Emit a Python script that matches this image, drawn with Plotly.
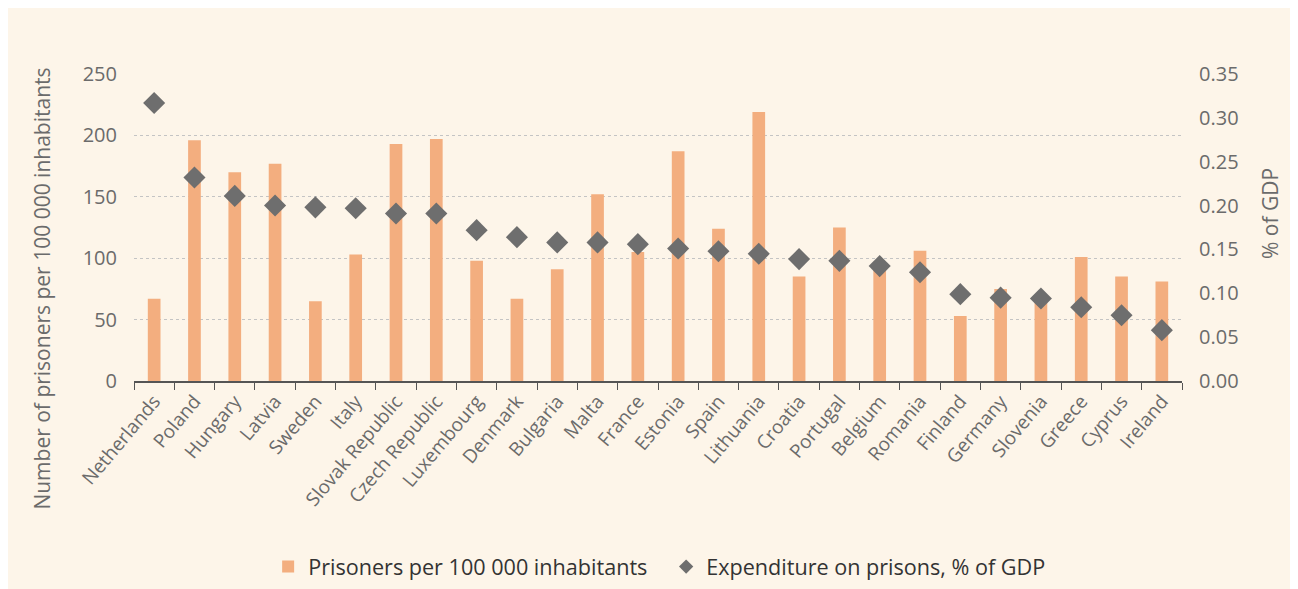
import plotly.graph_objects as go

countries = ["Netherlands", "Poland", "Hungary", "Latvia", "Sweden", "Italy",
             "Slovak Republic", "Czech Republic", "Luxembourg", "Denmark", "Bulgaria",
             "Malta", "France", "Estonia", "Spain", "Lithuania", "Croatia", "Portugal",
             "Belgium", "Romania", "Finland", "Germany", "Slovenia", "Greece", "Cyprus",
             "Ireland"]
prisoners = [67, 196, 170, 177, 65, 103, 193, 197, 98, 67, 91, 152, 105, 187, 124,
             219, 85, 125, 95, 106, 53, 75, 70, 101, 85, 81]
expenditure = [0.317, 0.232, 0.211, 0.200, 0.198, 0.197, 0.191, 0.191, 0.172, 0.164,
               0.158, 0.158, 0.156, 0.151, 0.148, 0.145, 0.139, 0.137, 0.131, 0.124,
               0.099, 0.095, 0.094, 0.084, 0.075, 0.058]
left_ticks = [0, 50, 100, 150, 200, 250]
right_ticks = [0.00, 0.05, 0.10, 0.15, 0.20, 0.25, 0.30, 0.35]

BG = "#fdf5e9"
FONT = "Open Sans"
GREY = "#6b6b6b"
BAR = "#f3ae7f"
DIA = "#6e6e6e"

fig = go.Figure()
fig.add_trace(go.Bar(x=countries, y=prisoners, name="Prisoners per 100 000 inhabitants",
                     marker=dict(color=BAR, line=dict(width=0)), yaxis="y",
                     showlegend=True))
fig.add_trace(go.Scatter(x=countries, y=expenditure, name="Expenditure on prisons, % of GDP",
                         mode="markers", yaxis="y2", showlegend=False,
                         marker=dict(symbol="diamond", size=17, color=DIA)))
# legend-only entry with a small diamond symbol, as in the reference
fig.add_trace(go.Scatter(x=[None], y=[None], name="Expenditure on prisons, % of GDP",
                         mode="markers", yaxis="y2", showlegend=True,
                         marker=dict(symbol="diamond", size=11, color=DIA)))

fig.update_layout(
    width=1298, height=589,
    paper_bgcolor=BG, plot_bgcolor=BG,
    margin=dict(l=126, r=124, t=66, b=216, autoexpand=False),
    font=dict(family=FONT, color=GREY, size=19),
    bargap=0.685,
    showlegend=True,
    legend=dict(orientation="h", x=0.128, xanchor="left", y=-0.606, yanchor="middle",
                font=dict(size=21.6, color="#333333"), bgcolor="rgba(0,0,0,0)",
                itemwidth=30, traceorder="normal",
                entrywidth=353, entrywidthmode="pixels"),
    xaxis=dict(type="category", range=[-0.5, len(countries) - 0.5],
               tickangle=-50, ticks="outside", tickson="boundaries", ticklen=7,
               tickcolor="#555555", showline=True, linecolor="#555555", linewidth=1.5,
               showgrid=False, tickfont=dict(size=19, color=GREY), automargin=False),
    yaxis=dict(range=[0, 250], tickvals=left_ticks, showgrid=True, gridcolor="#c4c4c4",
               griddash="dot", gridwidth=1, zeroline=False, showline=False,
               tickfont=dict(size=20, color=GREY), ticks="", ticklabelstandoff=16,
               automargin=False),
    yaxis2=dict(range=[0, 0.35], tickvals=right_ticks, tickformat=".2f", overlaying="y",
                side="right", showgrid=False, zeroline=False, showline=False,
                tickfont=dict(size=20, color=GREY), ticklabelstandoff=16,
                automargin=False),
    annotations=[
        dict(text="Number of prisoners per 100 000 inhabitants", textangle=-90,
             xref="paper", yref="paper", x=-0.0878, y=0.301, xanchor="center",
             yanchor="middle", showarrow=False, font=dict(size=21, color=GREY)),
        dict(text="% of GDP", textangle=-90, xref="paper", yref="paper", x=1.084, y=0.544,
             xanchor="center", yanchor="middle", showarrow=False,
             font=dict(size=21, color=GREY)),
    ],
)

fig.write_html("out.html")
